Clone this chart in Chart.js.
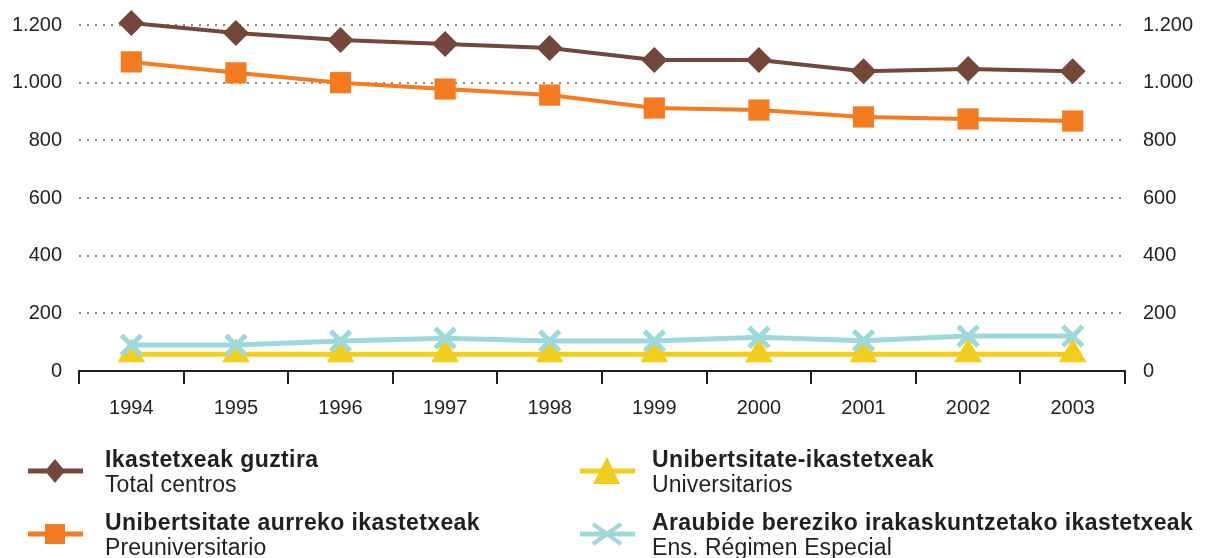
<!DOCTYPE html>
<html>
<head>
<meta charset="utf-8">
<script src="https://cdn.jsdelivr.net/npm/chart.js@4.4.1/dist/chart.umd.min.js"></script>
<style>
  html, body { margin: 0; padding: 0; background: #fff; }
  #wrap { position: relative; width: 1206px; height: 558px; overflow: hidden; font-family: "Liberation Sans", Arial, sans-serif; color: #231f20; }
  #chart { position: absolute; left: 0; top: 0; }
  .item { position: absolute; }
  .item svg { position: absolute; }
  .txt { position: absolute; white-space: nowrap; font-size: 23px; line-height: 26px; }
  .b { font-weight: bold; letter-spacing: 0.4px; }
  .n { letter-spacing: 0.1px; }
</style>
</head>
<body>
<div id="wrap">
  <canvas id="chart" width="1206" height="558"></canvas>
  <div id="legend"></div>
</div>
<script>
const years = ["1994", "1995", "1996", "1997", "1998", "1999", "2000", "2001", "2002", "2003"];
const totalCentros = [1207, 1172, 1148, 1134, 1120, 1079, 1079, 1040, 1047, 1040];
const preuniversitario = [1072, 1034, 1000, 978, 957, 912, 905, 881, 874, 867];
const universitarios = [58, 58, 58, 58, 58, 58, 58, 58, 58, 58];
const especial = [90, 90, 104, 114, 104, 104, 117, 105, 121, 121];

const seriesNames = [
  ["Ikastetxeak guztira", "Total centros"],
  ["Unibertsitate aurreko ikastetxeak", "Preuniversitario"],
  ["Unibertsitate-ikastetxeak", "Universitarios"],
  ["Araubide bereziko irakaskuntzetako ikastetxeak", "Ens. Régimen Especial"]
];

const brown = "#74473a";
const orange = "#f47b20";
const yellow = "#f2cd1c";
const cyan = "#9dd9da";

const fmt = (v) => v.toLocaleString("de-DE");
const tickFont = { family: "'Liberation Sans', Arial, sans-serif", size: 20 };

// fixed axis widths; drop the label padding chart.js adds above/below vertical axes
const fixY = (w) => (s) => { s.width = w; s.paddingTop = 0; s.paddingBottom = 0; };

new Chart(document.getElementById("chart"), {
  type: "line",
  data: {
    labels: years,
    datasets: [
      { label: seriesNames[0][1], data: totalCentros, borderColor: brown, backgroundColor: brown, borderWidth: 4,
        pointStyle: "rectRot", pointRadius: 13, pointBorderWidth: 0, order: 1 },
      { label: seriesNames[1][1], data: preuniversitario, borderColor: orange, backgroundColor: orange, borderWidth: 4,
        pointStyle: "rect", pointRadius: 15, pointBorderWidth: 0, order: 2 },
      { label: seriesNames[2][1], data: universitarios, borderColor: yellow, backgroundColor: yellow, borderWidth: 5,
        pointStyle: "triangle", pointRadius: 16, pointBorderWidth: 0, order: 4 },
      { label: seriesNames[3][1], data: especial, borderColor: cyan, backgroundColor: cyan, borderWidth: 5,
        pointStyle: "crossRot", pointRadius: 14, pointBorderWidth: 5, order: 3 }
    ]
  },
  options: {
    responsive: false,
    animation: false,
    events: [],
    layout: { autoPadding: false, padding: { top: 25, left: 0, right: 0, bottom: 0 } },
    plugins: { legend: { display: false }, tooltip: { enabled: false } },
    elements: { line: { tension: 0 } },
    clip: false,
    scales: {
      x: {
        offset: true,
        grid: { offset: true, drawOnChartArea: false, drawTicks: true, tickLength: 13, color: "#231f20", lineWidth: 2 },
        border: { color: "#231f20", width: 2 },
        ticks: { color: "#231f20", font: tickFont, padding: 12 },
        afterFit: (s) => { s.height = 187; }
      },
      y: {
        position: "left",
        min: 0, max: 1200,
        ticks: { stepSize: 200, color: "#231f20", font: tickFont, padding: 17, callback: (v) => fmt(v) },
        grid: { color: "#888", lineWidth: 2, drawTicks: false },
        border: { display: false, dash: [2, 6] },
        afterFit: fixY(79)
      },
      y2: {
        position: "right",
        min: 0, max: 1200,
        ticks: { stepSize: 200, color: "#231f20", font: tickFont, padding: 18, callback: (v) => fmt(v) },
        grid: { display: false, drawTicks: false },
        border: { display: false },
        afterFit: fixY(81)
      }
    }
  }
});

// legend (HTML, icons as svg)
const legendItems = [
  { x: 28, y: 446, icon: "diamond", color: brown, names: seriesNames[0] },
  { x: 28, y: 509, icon: "square", color: orange, names: seriesNames[1] },
  { x: 580, y: 446, icon: "triangle", color: yellow, names: seriesNames[2] },
  { x: 580, y: 509, icon: "asterisk", color: cyan, names: seriesNames[3] }
];

// icon drawn in a 56x30 box, line centred at y=15
function iconSvg(kind, color) {
  let shape = "";
  if (kind === "diamond") shape = `<polygon points="27,3 37,15 27,27 17,15" fill="${color}"/>`;
  if (kind === "square") shape = `<rect x="17" y="5" width="20" height="20" fill="${color}"/>`;
  if (kind === "triangle") shape = `<polygon points="27,1 40,28 13,28" fill="${color}"/>`;
  if (kind === "asterisk") shape = `<path d="M13,5 L41,25 M13,25 L41,5" stroke="${color}" stroke-width="4"/>`;
  return `<svg width="56" height="30" style="left:0;top:10px">` +
    `<line x1="0" y1="15" x2="55" y2="15" stroke="${color}" stroke-width="5"/>${shape}</svg>`;
}

const legend = document.getElementById("legend");
legendItems.forEach((it) => {
  const d = document.createElement("div");
  d.className = "item";
  d.style.left = it.x + "px";
  d.style.top = it.y + "px";
  const tx = it.x === 28 ? 77 : 72;
  d.innerHTML = iconSvg(it.icon, it.color) +
    `<div class="txt b" style="left:${tx}px;top:0">${it.names[0]}</div>` +
    `<div class="txt n" style="left:${tx}px;top:25px">${it.names[1]}</div>`;
  legend.appendChild(d);
});
</script>
</body>
</html>
